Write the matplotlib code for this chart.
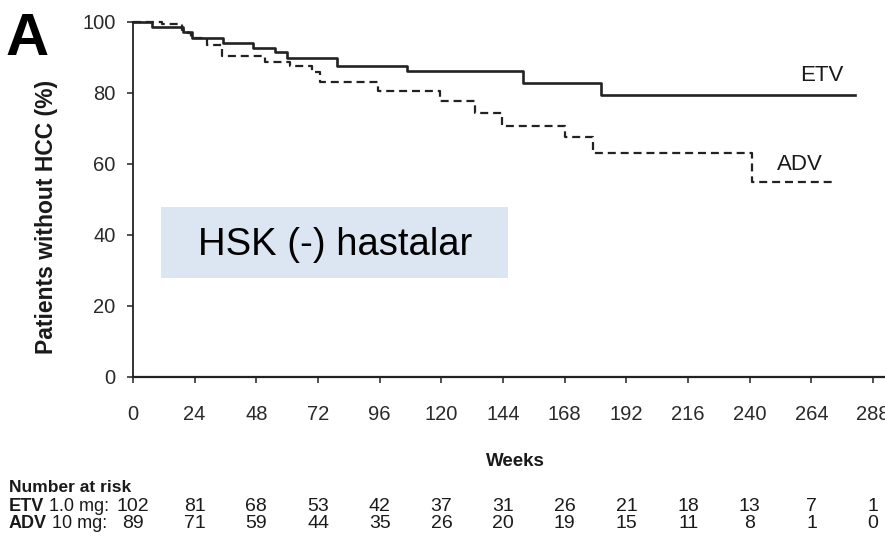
import matplotlib
matplotlib.use("Agg")
import matplotlib.pyplot as plt
from matplotlib.patches import Rectangle
from matplotlib.transforms import blended_transform_factory

plt.rcParams["font.family"] = ["Liberation Sans", "DejaVu Sans"]

# Kaplan-Meier step curves (weeks, % without HCC)
etv_weeks = [0, 7.3, 19.6, 22.8, 35.1, 46.8, 55.3, 59.8, 79.5, 106.5, 151.6, 182.1, 281.0]
etv_surv = [100, 98.5, 97.1, 95.3, 94.0, 92.6, 91.5, 89.8, 87.6, 86.1, 82.6, 79.4, 79.4]

adv_weeks = [0, 11.2, 18.9, 21.5, 22.6, 28.7, 34.5, 51.4, 61.1, 69.5, 72.8, 95.4,
             119.5, 133.1, 143.5, 168.1, 179.1, 240.7, 272.5]
adv_surv = [100, 99.3, 97.6, 96.7, 95.4, 93.4, 90.4, 88.7, 87.5, 85.8, 83.1, 80.5,
            77.5, 74.2, 70.7, 67.4, 62.9, 54.8, 54.8]

# Number-at-risk table
risk_weeks = [0, 24, 48, 72, 96, 120, 144, 168, 192, 216, 240, 264, 288]
etv_risk = [102, 81, 68, 53, 42, 37, 31, 26, 21, 18, 13, 7, 1]
adv_risk = [89, 71, 59, 44, 35, 26, 20, 19, 15, 11, 8, 1, 0]

x_ticks = [0, 24, 48, 72, 96, 120, 144, 168, 192, 216, 240, 264, 288]
y_ticks = [0, 20, 40, 60, 80, 100]

W, H = 885, 549
fig = plt.figure(figsize=(W / 100, H / 100), dpi=100)
fig.patch.set_facecolor("white")

def fx(px):
    return px / W

def fy(py):
    return (H - py) / H

ax_left, ax_right, ax_bottom, ax_top = 133, 885, 377, 21.5
ax = fig.add_axes([fx(ax_left), fy(ax_bottom), fx(ax_right - ax_left), (ax_bottom - ax_top) / H])
ax.set_xlim(0, 292.6)
ax.set_ylim(0, 100)

ink = "#1a1a1a"
ax.step(etv_weeks, etv_surv, where="post", color="#222222", lw=1.9, clip_on=False)
ax.step(adv_weeks, adv_surv, where="post", color="#222222", lw=1.6,
        linestyle=(0, (3.6, 2.2)), clip_on=False)

for side in ("top", "right"):
    ax.spines[side].set_visible(False)
ax.spines["left"].set_linewidth(1.3)
ax.spines["bottom"].set_linewidth(1.6)
ax.spines["left"].set_color("#222222")
ax.spines["bottom"].set_color("#222222")

ax.set_xticks(x_ticks)
ax.set_yticks(y_ticks)
ax.tick_params(axis="y", direction="out", length=4.5, width=1.1, pad=8,
               labelsize=14.5, colors="#222222", labelcolor="#2a2a2a")
ax.tick_params(axis="x", direction="out", length=4.5, width=1.1, pad=16,
               labelsize=14.5, colors="#222222", labelcolor="#2a2a2a")

# Curve labels
ax.text(268, 84.7, "ETV", fontsize=16, color=ink, ha="center", va="center")
ax.text(259.5, 59.9, "ADV", fontsize=16, color=ink, ha="center", va="center")

# Axis titles
fig.text(fx(515), fy(462), "Weeks", fontsize=13.5, fontweight="bold", color=ink,
         ha="center", va="center")
fig.text(fx(47), fy(217), "Patients without HCC (%)", fontsize=16.5, fontweight="bold",
         color=ink, ha="center", va="center", rotation=90)

# Panel letter
fig.text(fx(6), fy(55), "A", fontsize=43, fontweight="bold", color="black",
         ha="left", va="baseline")

# Highlight box
fig.patches.append(Rectangle((fx(161), fy(278)), fx(508 - 161), (278 - 207) / H,
                             transform=fig.transFigure, facecolor="#dce6f2",
                             edgecolor="none", zorder=0))
fig.text(fx(335), fy(255), "HSK (-) hastalar", fontsize=27.5, color="black",
         ha="center", va="baseline")

# Number at risk
fig.text(fx(9), fy(492), "Number at risk", fontsize=12.5, fontweight="bold",
         color=ink, ha="left", va="baseline")

row_specs = [("ETV", " 1.0 mg:", etv_risk, 511), ("ADV", " 10 mg:", adv_risk, 528)]
trans = blended_transform_factory(ax.transData, fig.transFigure)
for drug, dose, counts, base in row_specs:
    t1 = fig.text(fx(9), fy(base), drug, fontsize=13, fontweight="bold", color=ink,
                  ha="left", va="baseline")
    ax.annotate(dose, xy=(1, 0), xycoords=t1, fontsize=13, color=ink,
                ha="left", va="bottom", annotation_clip=False)
    for wk, n in zip(risk_weeks, counts):
        ax.text(wk, fy(base), str(n), transform=trans, fontsize=14, color=ink,
                ha="center", va="baseline", clip_on=False)

fig.savefig("out.png", dpi=100, facecolor="white")
